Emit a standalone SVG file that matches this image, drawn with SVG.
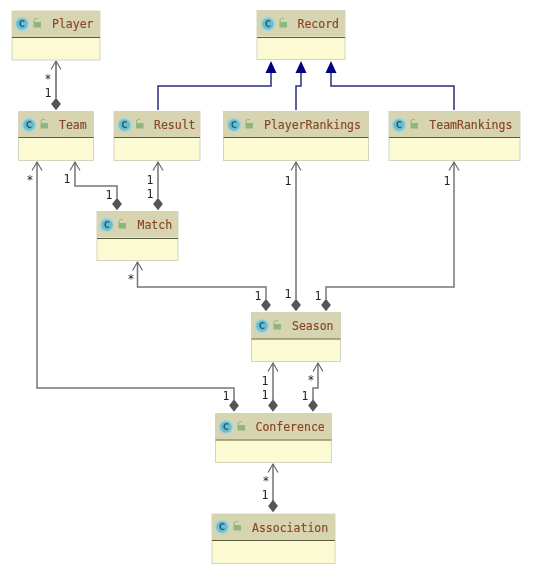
<svg xmlns="http://www.w3.org/2000/svg" width="540" height="584" viewBox="0 0 540 584">
<style>
.body{fill:#fcfad2;stroke:#d4d4c2;stroke-width:1}
.head{fill:#d6d4b1}
.sep{stroke:#5c5a3c;stroke-width:1}
.ic{fill:#6cbccb;stroke:#a3d6df;stroke-width:1.5}
.cl{font:bold 8px "DejaVu Sans",sans-serif;fill:#1d5f78;text-anchor:middle}
.lk{fill:#8fb67c}
.sh{fill:none;stroke:#8fb67c;stroke-width:1}
.nm{font:11.500px "DejaVu Sans Mono",monospace;fill:#8a4526;stroke:#8a4526;stroke-width:.15}
.c{fill:none;stroke:#757575;stroke-width:1.5}
.o{fill:none;stroke:#606060;stroke-width:1.1}
.i{fill:none;stroke:#2a2f7c;stroke-width:1.5}
.t{fill:#00007f}
.d{fill:#555}
.m{font:11.500px "DejaVu Sans Mono",monospace;fill:#222;text-anchor:middle}
</style>
<defs>
<filter id="soft" filterUnits="userSpaceOnUse" x="0" y="0" width="540" height="584"><feGaussianBlur stdDeviation="0.3"/></filter>
<g id="icon"><circle class="ic" r="6.500"/><text class="cl" y="3">C</text><rect class="lk" x="11.500" y="-2" width="7.500" height="5.500"/><path class="sh" d="M12 -2v-2a2.500 2.500 0 0 1 4 -1"/></g>
<path id="dia" class="d" d="M0 -6.200 L4.900 0 L0 6.200 L-4.900 0Z"/>
<path id="arr" class="o" d="M-5 8.500 L0 0 L5 8.500"/>
<path id="tri" class="t" d="M0 0 L5.500 12 L-5.500 12Z"/>
</defs>

<g id="connectors" filter="url(#soft)">
<path class="c" d="M56 62V98" style="stroke-width:2;stroke:#8a8a8a"/>
<path class="c" d="M75 162V186H117V198"/>
<path class="c" d="M158 162V198"/>
<path class="c" d="M137.500 262V287H266V299"/>
<path class="c" d="M296 162V299"/>
<path class="c" d="M454 162V287H326V299"/>
<path class="c" d="M273 363V400"/>
<path class="c" d="M318 363V388H313V400"/>
<path class="c" d="M37 162V388H234V400"/>
<path class="c" d="M273 464V501"/>
<path class="i" d="M158 110V86H271V72"/>
<path class="i" d="M296 110V86H301V72"/>
<path class="i" d="M454 110V86H331V72"/>
<use href="#arr" x="56" y="61"/><use href="#dia" x="56" y="104"/>
<use href="#arr" x="75" y="162"/><use href="#dia" x="117" y="204"/>
<use href="#arr" x="158" y="162"/><use href="#dia" x="158" y="204"/>
<use href="#arr" x="137.500" y="262"/><use href="#dia" x="266" y="305"/>
<use href="#arr" x="296" y="162"/><use href="#dia" x="296" y="305"/>
<use href="#arr" x="454" y="162"/><use href="#dia" x="326" y="305"/>
<use href="#arr" x="273" y="363"/><use href="#dia" x="273" y="405.500"/>
<use href="#arr" x="318" y="363"/><use href="#dia" x="313" y="405.500"/>
<use href="#arr" x="37" y="162"/><use href="#dia" x="234" y="405.500"/>
<use href="#arr" x="273" y="464"/><use href="#dia" x="273" y="506"/>
<use href="#tri" x="271" y="61"/><use href="#tri" x="301" y="61"/><use href="#tri" x="331" y="61"/>
<text class="m" x="48" y="83">*</text><text class="m" x="48" y="97">1</text>
<text class="m" x="30" y="184">*</text>
<text class="m" x="67" y="183">1</text>
<text class="m" x="109" y="199">1</text>
<text class="m" x="150" y="184">1</text><text class="m" x="150" y="197.500">1</text>
<text class="m" x="288" y="185">1</text>
<text class="m" x="447" y="185">1</text>
<text class="m" x="131" y="283">*</text>
<text class="m" x="258" y="300">1</text><text class="m" x="288" y="298">1</text><text class="m" x="318" y="300">1</text>
<text class="m" x="265" y="385">1</text><text class="m" x="265" y="398.500">1</text>
<text class="m" x="311" y="384">*</text><text class="m" x="305" y="400">1</text>
<text class="m" x="226" y="400">1</text>
<text class="m" x="266" y="485">*</text><text class="m" x="265" y="499">1</text>
</g>

<g filter="url(#soft)">
<g id="node-player"><rect class="body" x="12" y="11" width="88" height="49"/><rect class="head" x="12" y="11" width="88" height="26"/><path class="sep" d="M12 37.500H100"/><use href="#icon" x="22" y="24"/><text class="nm" x="52" y="28">Player</text></g>
<g id="node-team"><rect class="body" x="18.500" y="111.500" width="75" height="49"/><rect class="head" x="18.500" y="111.500" width="75" height="26"/><path class="sep" d="M18.500 137.500H93.500"/><use href="#icon" x="29" y="125"/><text class="nm" x="59" y="129">Team</text></g>
<g id="node-result"><rect class="body" x="114" y="111.500" width="86" height="49"/><rect class="head" x="114" y="111.500" width="86" height="26"/><path class="sep" d="M114 137.500H200"/><use href="#icon" x="124.500" y="125"/><text class="nm" x="154" y="129">Result</text></g>
<g id="node-record"><rect class="body" x="257" y="10.500" width="88" height="49"/><rect class="head" x="257" y="10.500" width="88" height="26"/><path class="sep" d="M257 37.500H345"/><use href="#icon" x="268" y="24"/><text class="nm" x="297.500" y="28">Record</text></g>
<g id="node-playerrankings"><rect class="body" x="223.500" y="111.500" width="145" height="49"/><rect class="head" x="223.500" y="111.500" width="145" height="26"/><path class="sep" d="M223.500 137.500H368.500"/><use href="#icon" x="234" y="125"/><text class="nm" x="264" y="129">PlayerRankings</text></g>
<g id="node-teamrankings"><rect class="body" x="389" y="111.500" width="131" height="49"/><rect class="head" x="389" y="111.500" width="131" height="26"/><path class="sep" d="M389 137.500H520"/><use href="#icon" x="399" y="125"/><text class="nm" x="429.300" y="129">TeamRankings</text></g>
<g id="node-match"><rect class="body" x="97" y="211.500" width="81" height="49"/><rect class="head" x="97" y="211.500" width="81" height="26"/><path class="sep" d="M97 238.500H178"/><use href="#icon" x="107" y="225"/><text class="nm" x="137.500" y="229">Match</text></g>
<g id="node-season"><rect class="body" x="251.500" y="312.500" width="89" height="49"/><rect class="head" x="251.500" y="312.500" width="89" height="26"/><path class="sep" d="M251.500 339H340.500"/><use href="#icon" x="262" y="326"/><text class="nm" x="292" y="330">Season</text></g>
<g id="node-conference"><rect class="body" x="215.500" y="413.500" width="116" height="49"/><rect class="head" x="215.500" y="413.500" width="116" height="26"/><path class="sep" d="M215.500 440H331.500"/><use href="#icon" x="226" y="427"/><text class="nm" x="255.500" y="431">Conference</text></g>
<g id="node-association"><rect class="body" x="212" y="514" width="123" height="49.500"/><rect class="head" x="212" y="514" width="123" height="26"/><path class="sep" d="M212 540.500H335"/><use href="#icon" x="222" y="527"/><text class="nm" x="252" y="532">Association</text></g>
</g>
</svg>
